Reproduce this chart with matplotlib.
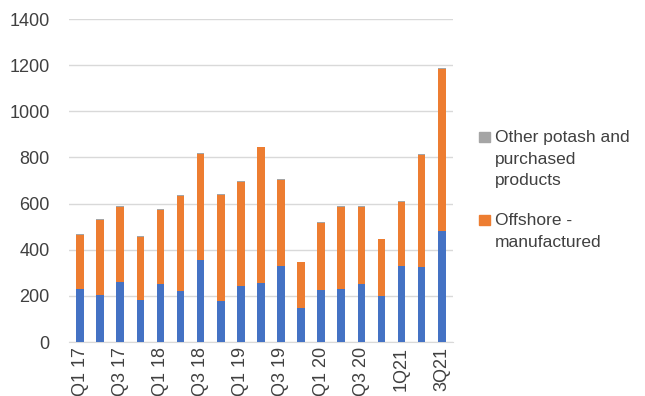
import numpy as np
import matplotlib.pyplot as plt
from matplotlib.patches import Rectangle

plt.rcParams['font.family'] = ['Liberation Sans', 'DejaVu Sans']

quarters = ['Q1 17', 'Q2 17', 'Q3 17', 'Q4 17',
            'Q1 18', 'Q2 18', 'Q3 18', 'Q4 18',
            'Q1 19', 'Q2 19', 'Q3 19', 'Q4 19',
            'Q1 20', 'Q2 20', 'Q3 20', 'Q4 20',
            '1Q21', '2Q21', '3Q21']
onshore = [229, 204, 261, 182, 251, 221, 357, 178, 243, 256,
           331, 147, 227, 231, 253, 201, 331, 327, 483]
offshore = [235, 326, 326, 274, 322, 411, 458, 458, 450, 588,
            372, 199, 289, 356, 334, 246, 277, 485, 700]
other = [5, 4, 5, 5, 5, 4, 4, 5, 5, 3, 3, 2, 3, 3, 3, 2, 3, 3, 3]

legend_labels = ['Other potash and\npurchased\nproducts',
                 'Offshore -\nmanufactured']

blue = '#4472C4'
orange = '#ED7D31'
grey = '#A5A5A5'
text_col = '#404040'

W, H = 645, 396
fig = plt.figure(figsize=(W / 100, H / 100), dpi=100)
ax = fig.add_axes([0.107, 0.136, 0.595, 0.816])

x = np.arange(len(quarters))
w = 0.38
onshore = np.array(onshore)
offshore = np.array(offshore)
other = np.array(other)

ax.bar(x, onshore, w, color=blue, zorder=3)
ax.bar(x, offshore, w, bottom=onshore, color=orange, zorder=3)
ax.bar(x, other, w, bottom=onshore + offshore, color=grey, zorder=3)

ax.set_ylim(0, 1400)
ax.set_xlim(-0.55, len(quarters) - 0.45)
ax.set_yticks(range(0, 1401, 200))
ax.yaxis.grid(True, color='#D9D9D9', linewidth=1)
ax.set_axisbelow(True)
for s in ['top', 'right', 'left']:
    ax.spines[s].set_visible(False)
ax.spines['bottom'].set_color('#D9D9D9')
ax.tick_params(axis='both', length=0, labelsize=13, colors=text_col)
ax.tick_params(axis='y', pad=14)

ax.set_xticks(x[::2])
ax.set_xticklabels(quarters[::2], rotation=90)

# legend drawn by hand so the swatch sits beside the first line
for (label, col, ytop) in zip(legend_labels, [grey, orange], [137, 220]):
    fig.patches.append(Rectangle((479 / W, 1 - (ytop + 5) / H), 11 / W, 10 / H,
                                 transform=fig.transFigure, color=col))
    fig.text(495 / W, 1 - (ytop - 7) / H, label, ha='left', va='top',
             fontsize=12.5, linespacing=1.55, color=text_col)

fig.savefig('out.png', dpi=100)
